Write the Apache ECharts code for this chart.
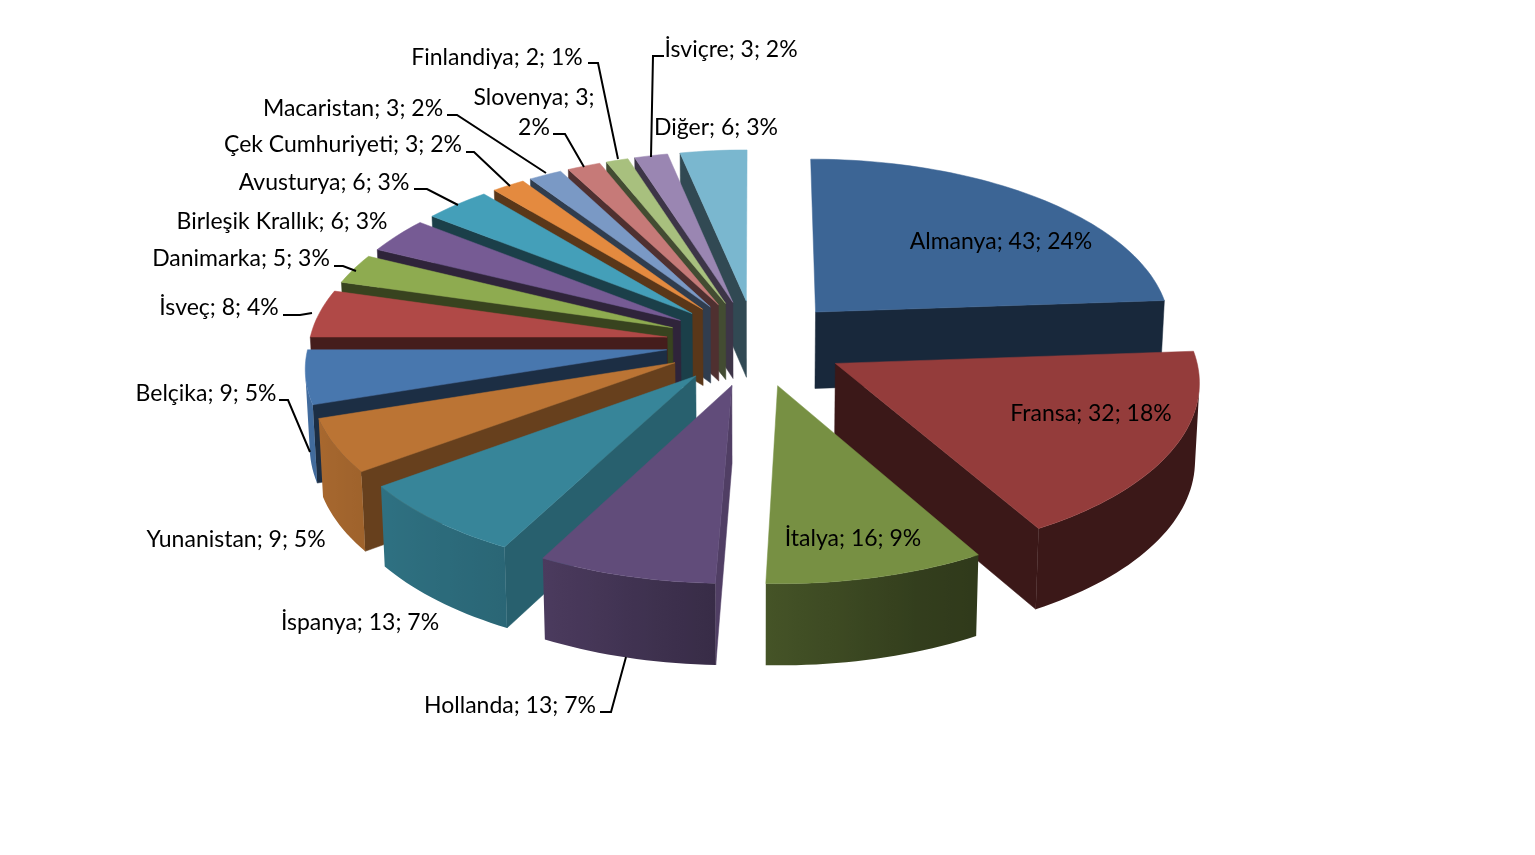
<!DOCTYPE html>
<html><head><meta charset="utf-8">
<style>html,body{margin:0;padding:0;background:#fff}#c{width:1535px;height:855px}</style>
<script src="https://cdn.jsdelivr.net/npm/echarts@6/dist/echarts.min.js"></script>
</head><body><div id="c"></div>
<script>
// ---- data ----
const categories = ['Almanya','Fransa','İtalya','Hollanda','İspanya','Yunanistan','Belçika','İsveç','Danimarka','Birleşik Krallık','Avusturya','Çek Cumhuriyeti','Macaristan','Slovenya','Finlandiya','İsviçre','Diğer'];
const values = [43,32,16,13,13,9,9,8,5,6,6,3,3,3,2,3,6];
// ---- style ----
const topColors = ['#3c6595','#943c3b','#779043','#614c7a','#378599','#bb7434','#4877ae','#b04947','#8eab50','#765b94','#449fb9','#e48a3f','#7a99c5','#c67a78','#a8c07e','#9a86b2','#7ab7cf'];
// brightness of a vertical face as a function of its angle (degrees clockwise from 12 o'clock)
const wallShadeStops = [[0,.4],[150,.4],[160,.43],[182,.58],[208,.77],[234,.85],[252,.9],[290,.9],[360,.9]];
const cutShadeStops = [[0,.39],[150,.4],[182,.82],[208,.72],[234,.55],[252,.39],[360,.4]];
// ---- projection of the tilted pie ----
const view = {cx:755.5, cy:343, rx:358, ry:172, persp:.09, depth:77, depthPow:.5, squeeze:.99, explode:.25};
// ---- label layout: [x, y] centre of every text, optional leader polyline ----
const labelCentres = [[1001,242],[1091,414],[853,539],[510,706],[360,623],[236,540],[206,394],[219,308],[241,259],[282,222],[324,183],[343,145],[353,109],[534,113],[497,58],[731,50],[716,128]];
const leaders = [null,null,null,[[600,712],[611,712],[626,657]],null,null,[[279,400],[288,400],[310,452]],[[283,315],[300,315],[312,313]],[[334,266],[343,266],[356,271]],null,[[414,189],[427,189],[458,205]],[[466,152],[474,152],[510,186]],[[447,115],[457,115],[546,173]],[[553,134],[565,134],[584,167]],[[588,63],[598,63],[618,159]],[[664,56],[653,56],[651,157]],null];
const labelBreaks = {13:'Slovenya; 3;\n2%'};
const labelFont = {fontFamily:'Lato', fontSize:23};

const total = values.reduce((a,b)=>a+b,0);
const rad = d=>d*Math.PI/180;
const starts = []; values.reduce((acc,v,i)=>{starts[i]=acc;return acc+v/total*360;},0);
const lookup = (stops,t)=>{for(let i=1;i<stops.length;i++){if(t<=stops[i][0]){const a=stops[i-1],b=stops[i];return a[1]+(b[1]-a[1])*(t-a[0])/(b[0]-a[0]);}}return stops[stops.length-1][1];};
const shade = (hex,f)=>{const n=parseInt(hex.slice(1),16);return 'rgb('+[n>>16,(n>>8)&255,n&255].map(c=>Math.round(c*f)).join(',')+')';};
function project(X,Y,bottom){
  const s=1/(1+view.persp*Y);
  let x=view.rx*X*s, y=view.cy-view.ry*Y*s;
  if(bottom){x*=view.squeeze; y+=view.depth*Math.pow(s,view.depthPow);}
  return [view.cx+x,y];
}
const area = p=>{let a=0;for(let i=0;i<p.length;i++){const q=p[(i+1)%p.length];a+=p[i][0]*q[1]-q[0]*p[i][1];}return a;};

function renderSlice(params,api){
  const i=api.value(0), v=api.value(1);
  const t0=starts[i], t1=t0+v/total*360, mid=rad((t0+t1)/2);
  const ox=view.explode*Math.sin(mid), oy=view.explode*Math.cos(mid);
  const rim=t=>[ox+Math.sin(rad(t)),oy+Math.cos(rad(t))];
  const color=topColors[i], children=[];
  const poly=(pts,fill)=>children.push({type:'polygon',shape:{points:pts},style:{fill,stroke:fill,lineWidth:.5}});
  const cut=t=>{
    const r=rim(t);
    poly([project(ox,oy),project(r[0],r[1]),project(r[0],r[1],true),project(ox,oy,true)],shade(color,lookup(cutShadeStops,t)));
  };
  if(t0>=180) cut(t0);
  if(t1<=180) cut(t1);
  const n=Math.max(2,Math.ceil((t1-t0)/1.5));
  const arc=[];
  for(let k=0;k<=n;k++) arc.push(t0+(t1-t0)*k/n);
  // outer wall: the part that faces the viewer, as one polygon with a horizontal gradient
  const upper=[],lower=[],samples=[];
  for(let k=0;k<n;k++){
    const a=rim(arc[k]), b=rim(arc[k+1]);
    const q=[project(a[0],a[1]),project(b[0],b[1]),project(b[0],b[1],true),project(a[0],a[1],true)];
    if(area(q)<0){
      if(!upper.length){upper.push(q[0]);lower.push(q[3]);samples.push([q[0][0],arc[k]]);}
      upper.push(q[1]);lower.push(q[2]);samples.push([q[1][0],arc[k+1]]);
    }
  }
  if(upper.length){
    const xs=samples.map(s=>s[0]), x0=Math.min(...xs), x1=Math.max(...xs);
    const stops=samples.map(s=>({offset:(s[0]-x0)/(x1-x0||1),color:shade(color,lookup(wallShadeStops,s[1]))})).sort((a,b)=>a.offset-b.offset);
    const grad=new echarts.graphic.LinearGradient(x0,0,x1,0,stops,true);
    children.push({type:'polygon',shape:{points:upper.concat(lower.reverse())},style:{fill:grad}});
  }
  const top=[project(ox,oy)];
  arc.forEach(t=>{const r=rim(t);top.push(project(r[0],r[1]));});
  poly(top,color);
  return {type:'group',children};
}
function renderLabel(params,api){
  const i=api.value(0), v=api.value(1);
  const text=labelBreaks[i]||(categories[i]+'; '+v+'; '+Math.round(v/total*100)+'%');
  const children=[{type:'text',style:Object.assign({text,x:labelCentres[i][0],y:labelCentres[i][1],align:'center',verticalAlign:'middle',fill:'#000',lineHeight:30},labelFont)}];
  if(leaders[i]) children.push({type:'polyline',shape:{points:leaders[i]},style:{fill:'none',stroke:'#000',lineWidth:2}});
  return {type:'group',children};
}
// far slices are painted first
const order=values.map((v,i)=>i).sort((a,b)=>Math.cos(rad(starts[b]+values[b]/total*180))-Math.cos(rad(starts[a]+values[a]/total*180)));
const chart=echarts.init(document.getElementById('c'),null,{renderer:'canvas'});
chart.setOption({
  animation:false,backgroundColor:'#fff',
  series:[
    {type:'custom',coordinateSystem:'none',renderItem:renderSlice,z:1,silent:true,data:order.map(i=>({name:categories[i],value:[i,values[i]]}))},
    {type:'custom',coordinateSystem:'none',renderItem:renderLabel,z:2,silent:true,data:categories.map((c,i)=>({name:c,value:[i,values[i]]}))}
  ]
});
</script></body></html>
